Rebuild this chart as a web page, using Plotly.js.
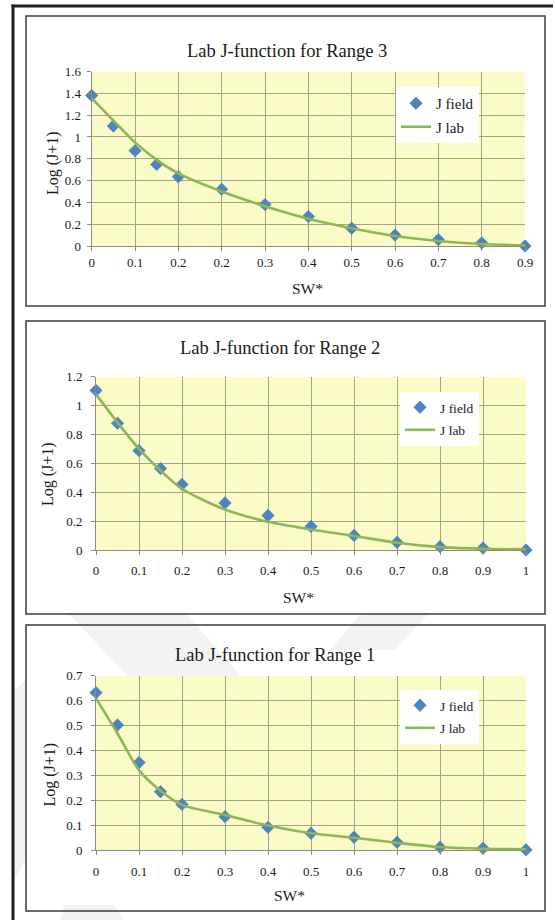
<!DOCTYPE html>
<html>
<head>
<meta charset="utf-8">
<script src="https://cdn.plot.ly/plotly-3.0.1.min.js"></script>
<style>
  html, body { margin: 0; padding: 0; background: #ffffff; }
  #chart { width: 555px; height: 920px; }
</style>
</head>
<body>
<div id="chart"></div>
<script>
// Normalised water saturation SW* at which each curve is sampled
const swPoints = [0, 0.05, 0.1, 0.15, 0.2, 0.3, 0.4, 0.5, 0.6, 0.7, 0.8, 0.9, 1.0];

// Range 3
const range3Field = [1.38, 1.10, 0.874, 0.748, 0.635, 0.52, 0.38, 0.27, 0.163, 0.10, 0.058, 0.028, 0.0];
const range3Lab   = [1.356, 1.15, 0.95, 0.79, 0.666, 0.50, 0.365, 0.25, 0.163, 0.092, 0.046, 0.018, 0.006];

// Range 2
const range2Field = [1.105, 0.878, 0.688, 0.564, 0.454, 0.326, 0.239, 0.163, 0.101, 0.053, 0.023, 0.014, 0.0];
const range2Lab   = [1.078, 0.883, 0.70, 0.55, 0.424, 0.28, 0.195, 0.142, 0.097, 0.05, 0.02, 0.009, 0.004];

// Range 1
const range1Field = [0.632, 0.502, 0.351, 0.234, 0.183, 0.134, 0.091, 0.067, 0.051, 0.031, 0.011, 0.007, 0.001];
const range1Lab   = [0.609, 0.468, 0.321, 0.238, 0.181, 0.141, 0.098, 0.067, 0.049, 0.029, 0.012, 0.005, 0.003];

// Axis ticks
const xTickVals = [0, 0.1, 0.2, 0.3, 0.4, 0.5, 0.6, 0.7, 0.8, 0.9, 1.0];
const range3XTickText = ['0', '0.1', '0.2', '0.2', '0.3', '0.4', '0.5', '0.6', '0.7', '0.8', '0.9'];
const range12XTickText = ['0', '0.1', '0.2', '0.3', '0.4', '0.5', '0.6', '0.7', '0.8', '0.9', '1'];
const range3YTicks = [0, 0.2, 0.4, 0.6, 0.8, 1, 1.2, 1.4, 1.6];
const range2YTicks = [0, 0.2, 0.4, 0.6, 0.8, 1, 1.2];
const range1YTicks = [0, 0.1, 0.2, 0.3, 0.4, 0.5, 0.6, 0.7];

const titles = ['Lab J-function for Range 3', 'Lab J-function for Range 2', 'Lab J-function for Range 1'];
const xTitle = 'SW*';
const yTitle = 'Log (J+1)';
const fieldName = 'J field';
const labName = 'J lab';

// ---- layout in pixels ----
const W = 555, H = 920;
const px = v => v / W;           // horizontal pixel -> paper
const py = v => 1 - v / H;       // vertical pixel -> paper

const SERIF = 'Liberation Serif, Times New Roman, serif';
const TEXT = '#1a1a1a';
const BLUE = '#4A84C2';
const GREEN = '#8DB654';
const PLOT_BG = '#FBFBC8';
const GRID = '#a3a38c';
const AXIS = '#8c8c80';

const panels = [
  { field: range3Field, lab: range3Lab, ticktext: range3XTickText, yticks: range3YTicks, ymax: 1.6,
    plot: { l: 91.7, r: 525, t: 71.5, b: 246 }, box: { t: 16, b: 306 },
    title: { x: 287, y: 51 }, xTitlePos: { x: 307, y: 288 }, yTitlePos: { x: 53, y: 163 },
    yStand: 3, xStand: 0, legend: { x: 396, y: 87, size: 15, gap: 1 } },
  { field: range2Field, lab: range2Lab, ticktext: range12XTickText, yticks: range2YTicks, ymax: 1.2,
    plot: { l: 96, r: 526, t: 376.7, b: 550 }, box: { t: 321, b: 614 },
    title: { x: 280, y: 348 }, xTitlePos: { x: 298, y: 597 }, yTitlePos: { x: 48, y: 474 },
    yStand: 6, xStand: 4, legend: { x: 400, y: 392, size: 13.5, gap: 2 } },
  { field: range1Field, lab: range1Lab, ticktext: range12XTickText, yticks: range1YTicks, ymax: 0.7,
    plot: { l: 96, r: 526, t: 675.7, b: 850 }, box: { t: 625, b: 911 },
    title: { x: 275, y: 655 }, xTitlePos: { x: 289, y: 895 }, yTitlePos: { x: 49.5, y: 775 },
    yStand: 6, xStand: 5, legend: { x: 400, y: 690, size: 13.5, gap: 2 } }
];

// faint background watermark strokes
const watermark = [
  [[67, 612], [185, 612], [262, 700], [150, 700]],
  [[362, 612], [430, 612], [395, 650], [330, 650]],
  [[14, 690], [26, 680], [26, 860], [14, 880]],
  [[64, 905], [114, 905], [124, 920], [60, 920]]
];

const data = [];
const layout = {
  width: W, height: H,
  margin: { l: 0, r: 0, t: 0, b: 0 },
  paper_bgcolor: '#ffffff',
  font: { family: SERIF, color: TEXT, size: 13 },
  showlegend: true,
  annotations: [],
  shapes: []
};

watermark.forEach(poly => {
  const d = poly.map((pt, k) => (k === 0 ? 'M' : 'L') + px(pt[0]) + ',' + py(pt[1])).join(' ') + ' Z';
  layout.shapes.push({ type: 'path', xref: 'paper', yref: 'paper', layer: 'below', path: d,
    fillcolor: 'rgba(0,0,0,0.05)', line: { width: 0 } });
});

// outer frame (left and top rules)
layout.shapes.push({ type: 'line', xref: 'paper', yref: 'paper', x0: px(13), x1: px(13), y0: py(4.5), y1: py(920),
  line: { color: '#1e1e1e', width: 3 } });
layout.shapes.push({ type: 'line', xref: 'paper', yref: 'paper', x0: px(11.5), x1: px(553), y0: py(6), y1: py(6),
  line: { color: '#1e1e1e', width: 3 } });

panels.forEach((p, i) => {
  const n = i === 0 ? '' : String(i + 1);
  const xa = 'x' + n, ya = 'y' + n;
  const legendId = 'legend' + n;

  // field measurements first, lab curve drawn on top of them
  data.push({
    type: 'scatter', mode: 'markers', name: fieldName, legendgroup: 'field' + n,
    x: swPoints, y: p.field, xaxis: xa, yaxis: ya, legend: legendId,
    marker: { symbol: 'diamond', size: 9.5, color: BLUE, line: { color: '#3f76b0', width: 0.6 } },
    cliponaxis: false
  });
  data.push({
    type: 'scatter', mode: 'lines', name: labName, legendgroup: 'lab' + n,
    x: swPoints, y: p.lab, xaxis: xa, yaxis: ya, legend: legendId,
    line: { color: GREEN, width: 2.6, shape: 'spline', smoothing: 0.8 },
    cliponaxis: false, hoverinfo: 'skip'
  });

  layout['xaxis' + n] = {
    domain: [px(p.plot.l), px(p.plot.r)], range: [0, 1], anchor: ya,
    tickmode: 'array', tickvals: xTickVals, ticktext: p.ticktext,
    ticks: 'outside', ticklen: 4, tickcolor: AXIS, ticklabelstandoff: p.xStand,
    showgrid: true, gridcolor: GRID, gridwidth: 1,
    showline: true, linecolor: AXIS, linewidth: 1,
    zeroline: false, fixedrange: true,
    tickfont: { family: SERIF, size: 13, color: TEXT }
  };
  layout['yaxis' + n] = {
    domain: [py(p.plot.b), py(p.plot.t)], range: [0, p.ymax], anchor: xa,
    tickmode: 'array', tickvals: p.yticks,
    ticks: 'outside', ticklen: 4, tickcolor: AXIS, ticklabelstandoff: p.yStand,
    showgrid: true, gridcolor: GRID, gridwidth: 1,
    showline: true, linecolor: AXIS, linewidth: 1,
    zeroline: false, fixedrange: true,
    tickfont: { family: SERIF, size: 13, color: TEXT }
  };

  layout[legendId] = {
    x: px(p.legend.x), y: py(p.legend.y), xanchor: 'left', yanchor: 'top',
    bgcolor: '#ffffff', borderwidth: 0,
    font: { family: SERIF, size: p.legend.size, color: TEXT },
    traceorder: 'grouped', tracegroupgap: p.legend.gap, itemwidth: 30
  };

  // plot background
  layout.shapes.push({ type: 'rect', xref: 'paper', yref: 'paper', layer: 'below',
    x0: px(p.plot.l), x1: px(p.plot.r), y0: py(p.plot.b), y1: py(p.plot.t),
    fillcolor: PLOT_BG, line: { width: 0 } });
  // panel frame
  layout.shapes.push({ type: 'rect', xref: 'paper', yref: 'paper', layer: 'below',
    x0: px(26), x1: px(545), y0: py(p.box.b), y1: py(p.box.t),
    fillcolor: 'rgba(0,0,0,0)', line: { color: '#3c3c3c', width: 1.5 } });

  layout.annotations.push({ text: titles[i], xref: 'paper', yref: 'paper', x: px(p.title.x), y: py(p.title.y),
    xanchor: 'center', yanchor: 'middle', showarrow: false, font: { family: SERIF, size: 18.5, color: TEXT } });
  layout.annotations.push({ text: xTitle, xref: 'paper', yref: 'paper', x: px(p.xTitlePos.x), y: py(p.xTitlePos.y),
    xanchor: 'center', yanchor: 'middle', showarrow: false, font: { family: SERIF, size: 15.5, color: TEXT } });
  layout.annotations.push({ text: yTitle, xref: 'paper', yref: 'paper', x: px(p.yTitlePos.x), y: py(p.yTitlePos.y),
    xanchor: 'center', yanchor: 'middle', textangle: -90, showarrow: false, font: { family: SERIF, size: 16, color: TEXT } });
});

Plotly.newPlot('chart', data, layout, { displayModeBar: false, staticPlot: true });
</script>
</body>
</html>
